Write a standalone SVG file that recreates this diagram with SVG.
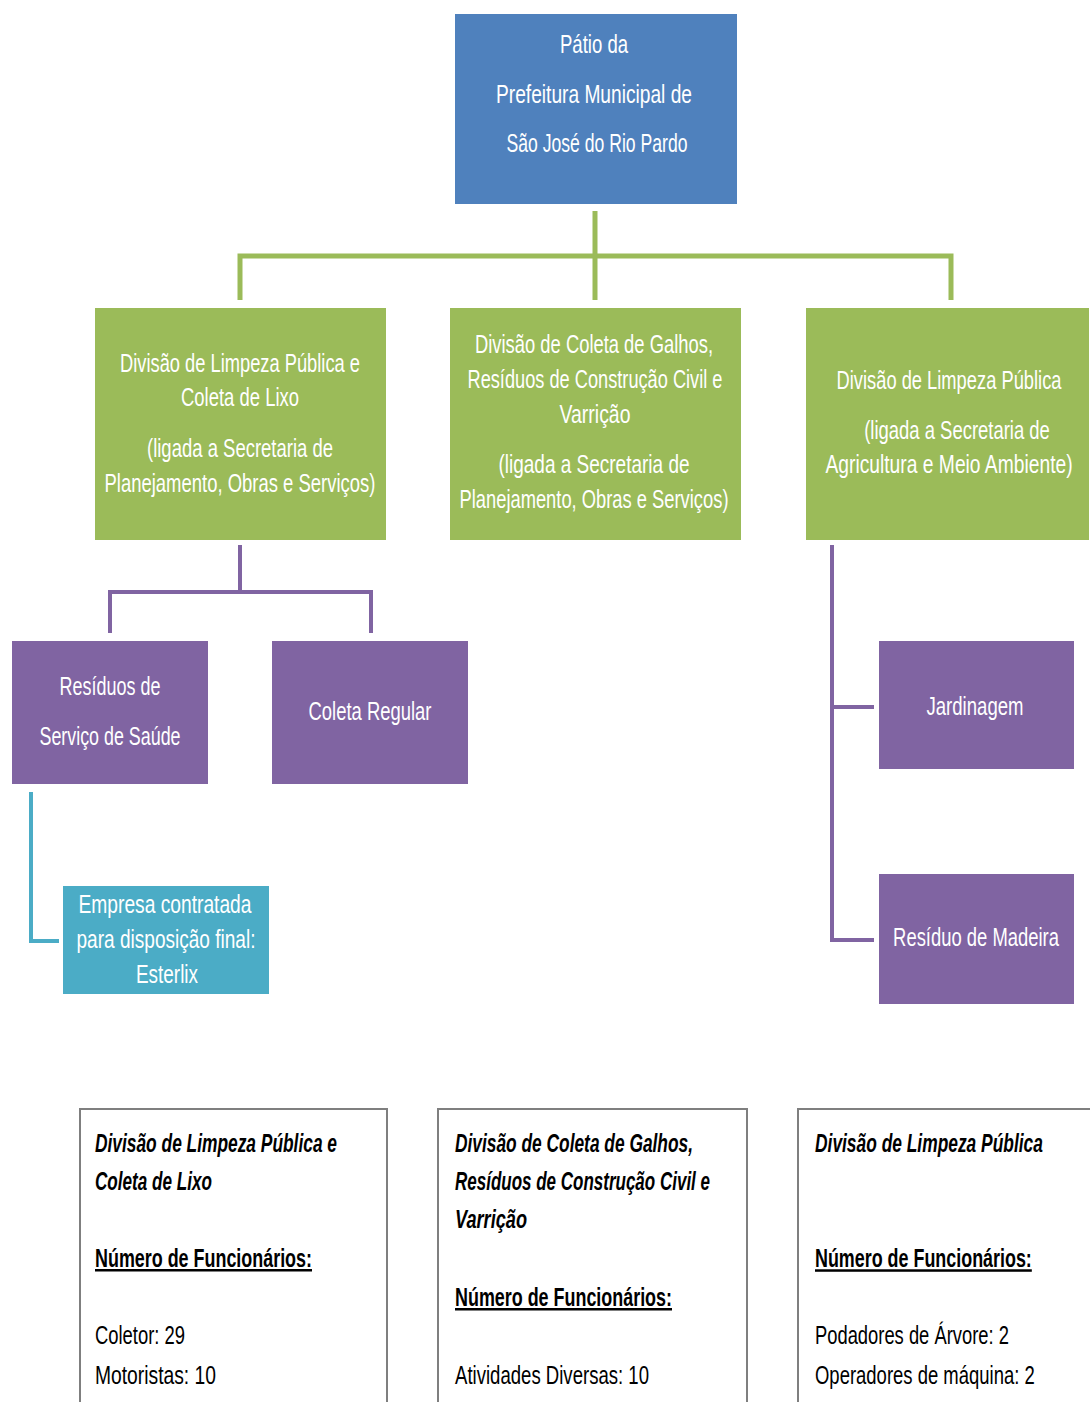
<svg xmlns="http://www.w3.org/2000/svg" width="1090" height="1402" viewBox="0 0 1090 1402">
<style>
.t{font-family:"Liberation Sans",Arial,sans-serif;font-size:26px;fill:#ffffff;text-anchor:middle}
.b{font-family:"Liberation Sans",Arial,sans-serif;font-size:25px;fill:#000000}
.bi{font-weight:bold;font-style:italic}
.bb{font-weight:bold}
.blue{fill:#4F81BD}
.green{fill:#9BBB59}
.purple{fill:#8064A2}
.cyan{fill:#4BACC6}
.card{fill:none;stroke:#7f7f7f;stroke-width:2}
</style>
<rect width="1090" height="1402" fill="#ffffff"/>
<g id="connectors" fill="none">
  <path d="M595,211 V300 M240,300 V256 H951 V300" stroke="#9BBB59" stroke-width="5"/>
  <path d="M240,545 V592 M110,633 V592 H371 V633" stroke="#8064A2" stroke-width="4"/>
  <path d="M832,545 V940 H874 M832,707 H874" stroke="#8064A2" stroke-width="4"/>
  <path d="M31,792 V941 H59" stroke="#4BACC6" stroke-width="4"/>
</g>
<g id="patio">
  <rect class="blue" x="455" y="14" width="282" height="190"/>
  <text class="t" x="594" y="53" textLength="68" lengthAdjust="spacingAndGlyphs">Pátio da</text>
  <text class="t" x="594" y="103" textLength="196" lengthAdjust="spacingAndGlyphs">Prefeitura Municipal de</text>
  <text class="t" x="597" y="152" textLength="181" lengthAdjust="spacingAndGlyphs">São José do Rio Pardo</text>
</g>
<g id="div-limpeza-coleta">
  <rect class="green" x="95" y="308" width="291" height="232"/>
  <text class="t" x="240" y="372" textLength="240" lengthAdjust="spacingAndGlyphs">Divisão de Limpeza Pública e</text>
  <text class="t" x="240" y="406" textLength="118" lengthAdjust="spacingAndGlyphs">Coleta de Lixo</text>
  <text class="t" x="240" y="457" textLength="186" lengthAdjust="spacingAndGlyphs">(ligada a Secretaria de</text>
  <text class="t" x="240" y="492" textLength="271" lengthAdjust="spacingAndGlyphs">Planejamento, Obras e Serviços)</text>
</g>
<g id="div-galhos">
  <rect class="green" x="450" y="308" width="291" height="232"/>
  <text class="t" x="594" y="353" textLength="238" lengthAdjust="spacingAndGlyphs">Divisão de Coleta de Galhos,</text>
  <text class="t" x="595" y="388" textLength="255" lengthAdjust="spacingAndGlyphs">Resíduos de Construção Civil e</text>
  <text class="t" x="595" y="423" textLength="71" lengthAdjust="spacingAndGlyphs">Varrição</text>
  <text class="t" x="594" y="473" textLength="191" lengthAdjust="spacingAndGlyphs">(ligada  a Secretaria de</text>
  <text class="t" x="594" y="508" textLength="269" lengthAdjust="spacingAndGlyphs">Planejamento, Obras e Serviços)</text>
</g>
<g id="div-limpeza-publica">
  <rect class="green" x="806" y="308" width="283" height="232"/>
  <text class="t" transform="translate(949,389) scale(0.74,1)" x="0" y="0" textLength="304" lengthAdjust="spacingAndGlyphs">Divisão de Limpeza Pública</text>
  <text class="t" transform="translate(957,439) scale(0.74,1)" x="0" y="0" textLength="251" lengthAdjust="spacingAndGlyphs">(ligada a Secretaria de</text>
  <text class="t" transform="translate(949,473) scale(0.74,1)" x="0" y="0" textLength="334" lengthAdjust="spacingAndGlyphs">Agricultura e Meio Ambiente)</text>
</g>
<g id="residuos-saude">
  <rect class="purple" x="12" y="641" width="196" height="143"/>
  <text class="t" x="110" y="695" textLength="101" lengthAdjust="spacingAndGlyphs">Resíduos de</text>
  <text class="t" x="110" y="745" textLength="141" lengthAdjust="spacingAndGlyphs">Serviço de Saúde</text>
</g>
<g id="coleta-regular">
  <rect class="purple" x="272" y="641" width="196" height="143"/>
  <text class="t" x="370" y="720" textLength="123" lengthAdjust="spacingAndGlyphs">Coleta Regular</text>
</g>
<g id="esterlix">
  <rect class="cyan" x="63" y="886" width="206" height="108"/>
  <text class="t" x="165" y="913" textLength="173" lengthAdjust="spacingAndGlyphs">Empresa  contratada</text>
  <text class="t" x="166" y="948" textLength="179" lengthAdjust="spacingAndGlyphs">para disposição final:</text>
  <text class="t" x="167" y="983" textLength="62" lengthAdjust="spacingAndGlyphs">Esterlix</text>
</g>
<g id="jardinagem">
  <rect class="purple" x="879" y="641" width="195" height="128"/>
  <text class="t" x="975" y="715" textLength="97" lengthAdjust="spacingAndGlyphs">Jardinagem</text>
</g>
<g id="residuo-madeira">
  <rect class="purple" x="879" y="874" width="195" height="130"/>
  <text class="t" transform="translate(976,946) scale(0.74,1)" x="0" y="0" textLength="224" lengthAdjust="spacingAndGlyphs">Resíduo de Madeira</text>
</g>
<g id="card-limpeza-coleta">
  <path class="card" d="M80,1402 V1109 H387 V1402"/>
  <text class="b bi" x="95" y="1152" textLength="242" lengthAdjust="spacingAndGlyphs">Divisão de Limpeza Pública e</text>
  <text class="b bi" x="95" y="1190" textLength="117" lengthAdjust="spacingAndGlyphs">Coleta de Lixo</text>
  <text class="b bb" x="95" y="1267" textLength="217" lengthAdjust="spacingAndGlyphs" text-decoration="underline">Número de Funcionários:</text>
  <text class="b" x="95" y="1344" textLength="90" lengthAdjust="spacingAndGlyphs">Coletor: 29</text>
  <text class="b" x="95" y="1384" textLength="121" lengthAdjust="spacingAndGlyphs">Motoristas: 10</text>
</g>
<g id="card-galhos">
  <path class="card" d="M438,1402 V1109 H747 V1402"/>
  <text class="b bi" x="455" y="1152" textLength="238" lengthAdjust="spacingAndGlyphs">Divisão de Coleta de Galhos,</text>
  <text class="b bi" x="455" y="1190" textLength="255" lengthAdjust="spacingAndGlyphs">Resíduos de Construção Civil e</text>
  <text class="b bi" x="455" y="1228" textLength="72" lengthAdjust="spacingAndGlyphs">Varrição</text>
  <text class="b bb" x="455" y="1306" textLength="217" lengthAdjust="spacingAndGlyphs" text-decoration="underline">Número de Funcionários:</text>
  <text class="b" x="455" y="1384" textLength="194" lengthAdjust="spacingAndGlyphs">Atividades Diversas: 10</text>
</g>
<g id="card-limpeza-publica">
  <path class="card" d="M798,1402 V1109 H1090"/>
  <text class="b bi" transform="translate(815,1152) scale(0.74,1)" x="0" y="0" textLength="308" lengthAdjust="spacingAndGlyphs">Divisão de Limpeza Pública</text>
  <text class="b bb" transform="translate(815,1267) scale(0.74,1)" x="0" y="0" textLength="293" lengthAdjust="spacingAndGlyphs" text-decoration="underline">Número de Funcionários:</text>
  <text class="b" transform="translate(815,1344) scale(0.74,1)" x="0" y="0" textLength="262" lengthAdjust="spacingAndGlyphs">Podadores de Árvore: 2</text>
  <text class="b" transform="translate(815,1384) scale(0.74,1)" x="0" y="0" textLength="297" lengthAdjust="spacingAndGlyphs">Operadores de máquina: 2</text>
</g>
</svg>
